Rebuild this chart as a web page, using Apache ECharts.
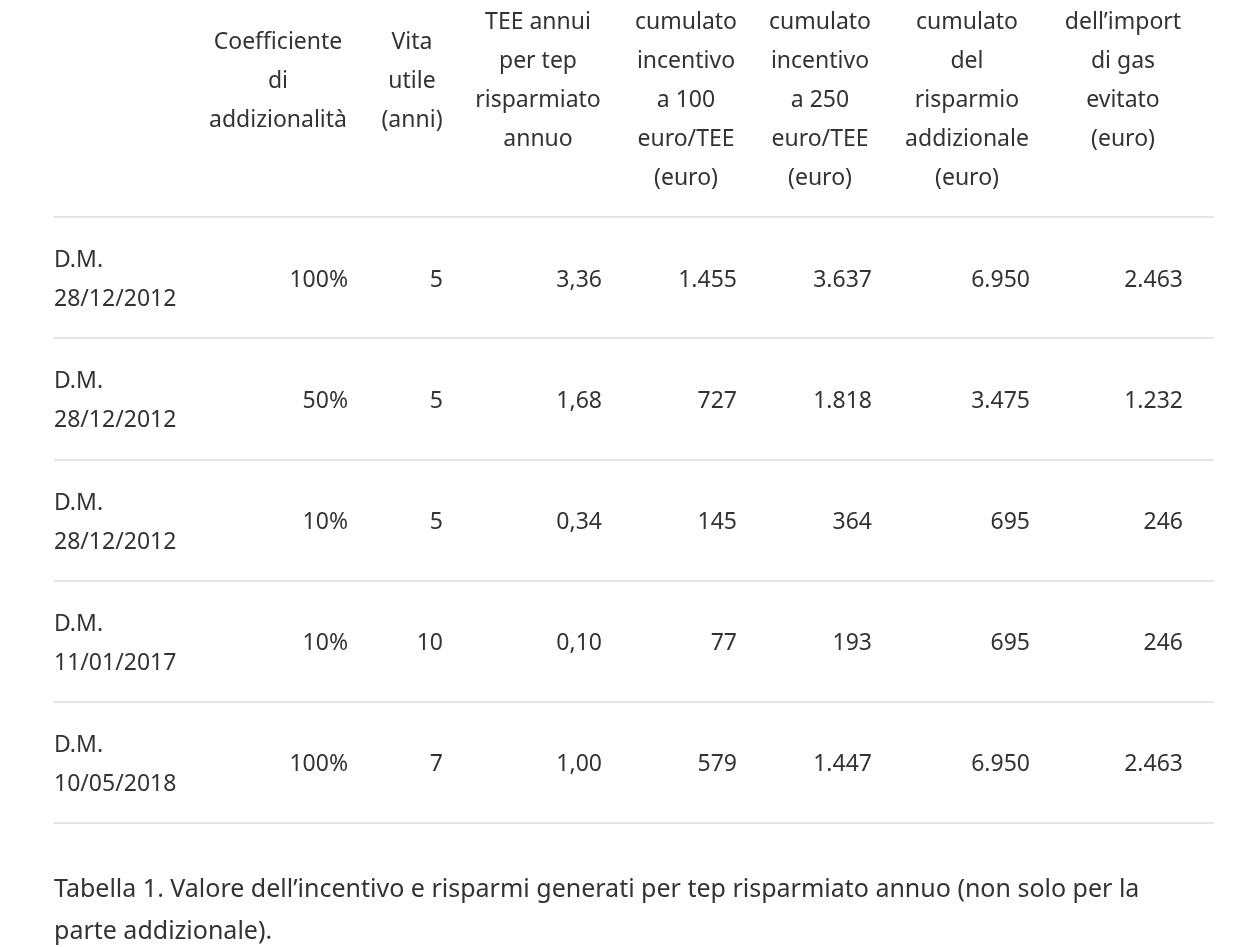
<!DOCTYPE html>
<html lang="it">
<head>
    <meta charset="UTF-8">
    <title>Tabella 1</title>
    <script src="https://cdn.jsdelivr.net/npm/echarts@6.0.0/dist/echarts.min.js"></script>
    <style>
        html, body { margin: 0; padding: 0; background: #fff; }
    </style>
</head>
<body>
    <div id="main" style="width: 1256px;height:947px;"></div>

    <script type="text/javascript">
        // dati della tabella
        var rowLabels = ['D.M.\n28/12/2012', 'D.M.\n28/12/2012', 'D.M.\n28/12/2012', 'D.M.\n11/01/2017', 'D.M.\n10/05/2018'];
        var coefficiente = [100, 50, 10, 10, 100];
        var vitaUtile = [5, 5, 5, 10, 7];
        var teeAnnui = [3.36, 1.68, 0.34, 0.10, 1.00];
        var incentivo100 = [1455, 727, 145, 77, 579];
        var incentivo250 = [3637, 1818, 364, 193, 1447];
        var risparmioAddiz = [6950, 3475, 695, 695, 6950];
        var importGas = [2463, 1232, 246, 246, 2463];
        var headers = [
            'Coefficiente\ndi\naddizionalità',
            'Vita\nutile\n(anni)',
            'TEE annui\nper tep\nrisparmiato\nannuo',
            'cumulato\nincentivo\na 100\neuro/TEE\n(euro)',
            'cumulato\nincentivo\na 250\neuro/TEE\n(euro)',
            'cumulato\ndel\nrisparmio\naddizionale\n(euro)',
            'dell\u2019import\ndi gas\nevitato\n(euro)'
        ];
        var caption = 'Tabella 1. Valore dell\u2019incentivo e risparmi generati per tep risparmiato annuo (non solo per la\nparte addizionale).';

        // layout delle colonne (px)
        var colRight = [348, 443, 602, 737, 872, 1030, 1183];
        var headCenter = [278, 412, 538, 686, 820, 967, 1123];
        var headShift = [0, 0, 0, 0.5, 0.5, 0.5, 0];
        var FONT = '"Noto Sans", "Open Sans", sans-serif';
        var TXT = '#333333';
        var SIZE = 23;
        var DY = 2.5;

        function migliaia(n) {
            return String(n).replace(/\B(?=(\d{3})+(?!\d))/g, '.');
        }
        function decimali(n) {
            return n.toFixed(2).replace('.', ',');
        }

        function rowCells(i) {
            return [
                coefficiente[i] + '%',
                String(vitaUtile[i]),
                decimali(teeAnnui[i]),
                migliaia(incentivo100[i]),
                migliaia(incentivo250[i]),
                migliaia(risparmioAddiz[i]),
                migliaia(importGas[i])
            ];
        }

        var myChart = echarts.init(document.getElementById('main'));

        var headerGraphics = headers.map(function (h, k) {
            return {
                type: 'text',
                x: headCenter[k],
                y: 78.5 + DY + headShift[k] * 39,
                style: {
                    text: h,
                    fill: TXT,
                    fontSize: SIZE,
                    fontFamily: FONT,
                    lineHeight: 39,
                    align: 'center',
                    verticalAlign: 'middle'
                }
            };
        });

        headerGraphics.push({
            type: 'text',
            x: 54,
            y: 911,
            style: {
                text: caption,
                fill: TXT,
                fontSize: 25,
                fontFamily: FONT,
                lineHeight: 42,
                align: 'left',
                verticalAlign: 'middle'
            }
        });

        var option = {
            animation: false,
            grid: { left: 54, right: 42, top: 217, bottom: 124 },
            xAxis: { type: 'value', min: 0, max: 1, show: false },
            yAxis: {
                type: 'category',
                inverse: true,
                data: rowLabels,
                axisLine: { show: false },
                axisTick: { show: false },
                axisLabel: { show: false },
                splitLine: { show: true, lineStyle: { color: '#e5e5e5', width: 2 } }
            },
            graphic: headerGraphics,
            series: [{
                type: 'custom',
                data: rowLabels.map(function (r, i) { return [0, i]; }),
                renderItem: function (params, api) {
                    var i = api.value(1);
                    var y = api.coord([0, i])[1] + DY;
                    var children = [{
                        type: 'text',
                        style: {
                            text: rowLabels[i],
                            x: params.coordSys.x,
                            y: y,
                            fill: TXT,
                            fontSize: SIZE,
                            fontFamily: FONT,
                            lineHeight: 39,
                            align: 'left',
                            verticalAlign: 'middle'
                        }
                    }];
                    rowCells(i).forEach(function (c, k) {
                        children.push({
                            type: 'text',
                            style: {
                                text: c,
                                x: colRight[k],
                                y: y,
                                fill: TXT,
                                fontSize: SIZE,
                                fontFamily: FONT,
                                align: 'right',
                                verticalAlign: 'middle'
                            }
                        });
                    });
                    return { type: 'group', children: children };
                }
            }]
        };

        myChart.setOption(option);
    </script>
</body>
</html>
